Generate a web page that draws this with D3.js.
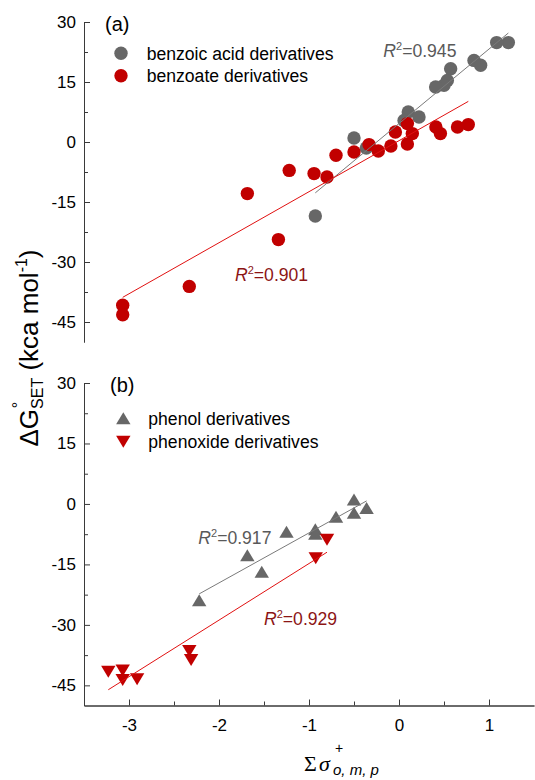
<!DOCTYPE html>
<html>
<head>
<meta charset="utf-8">
<script src="https://cdn.jsdelivr.net/npm/d3@7"></script>
<style>
  html, body { margin: 0; padding: 0; background: #fff; }
  svg { display: block; }
  text { font-family: "Liberation Sans", Arial, sans-serif; }
</style>
</head>
<body>
<svg id="chart" width="535" height="780"></svg>
<script>
// Panel (a): benzoic acid derivatives and benzoate derivatives
const benzoicX = [1.215, 1.085, 0.907, 0.833, 0.574, 0.537, 0.5, 0.407, 0.103, 0.222, 0.056, -0.5, -0.363, -0.93];
const benzoicY = [24.85, 24.85, 19.2, 20.4, 18.3, 15.4, 14.2, 13.75, 7.5, 6.25, 5.4, 1.0, -1.5, -18.5];
const benzoateX = [0.77, 0.65, 0.41, 0.46, 0.093, 0.148, 0.093, -0.04, -0.09, -0.23, -0.333, -0.5, -0.70, -1.22, -0.944, -0.80, -1.685, -1.34, -2.33, -3.07, -3.07];
const benzoateY = [4.35, 3.75, 3.75, 2.1, 4.6, 2.1, -0.5, 2.5, -1.0, -2.25, -0.65, -2.5, -3.3, -7.1, -7.9, -8.75, -12.9, -24.4, -36.1, -40.8, -43.2];

// Panel (b): phenol derivatives and phenoxide derivatives
const phenolX = [-0.5, -0.36, -0.5, -0.70, -0.93, -0.93, -1.25, -1.685, -1.525, -2.22];
const phenolY = [1.1, -1.0, -2.2, -3.2, -6.3, -7.4, -6.9, -12.7, -16.8, -23.9];
const phenoxideX = [-0.80, -0.925, -2.33, -2.31, -3.23, -3.07, -3.07, -2.91];
const phenoxideY = [-8.9, -13.5, -36.5, -38.7, -41.6, -41.3, -43.7, -43.5];

// Series names and fit statistics
const seriesNames = ["benzoic acid derivatives", "benzoate derivatives", "phenol derivatives", "phenoxide derivatives"];
const r2Labels = ["0.945", "0.901", "0.917", "0.929"];

// Axis ticks
const xDomain = [-3.5, 1.5];
const yDomain = [-50, 30];
const xMajor = [-3, -2, -1, 0, 1];
const xMinor = [-2.5, -1.5, -0.5, 0.5];
const yMajor = [-45, -30, -15, 0, 15, 30];
const yMinor = [-37.5, -22.5, -7.5, 7.5, 22.5];

const GRAY = "#676767", RED = "#c10000";
const GRAY_LINE = "#7a7a7a", RED_LINE = "#e01010";
const GRAY_TEXT = "#595959", RED_TEXT = "#8c1515";
const AXIS = "#3a3a3a";
const SERIF = "'Liberation Serif', 'Times New Roman', serif";

const svg = d3.select("#chart");
const x = d3.scaleLinear().domain(xDomain).range([84, 534]);
const yA = d3.scaleLinear().domain(yDomain).range([342, 22]);
const yB = d3.scaleLinear().domain(yDomain).range([705.5, 383]);

const zip = (xs, ys) => xs.map((v, i) => [v, ys[i]]);

// least-squares line over the x-range of the series
function fit(xs, ys) {
  const n = xs.length;
  const mx = d3.mean(xs), my = d3.mean(ys);
  let sxy = 0, sxx = 0;
  for (let i = 0; i < n; i++) { sxy += (xs[i] - mx) * (ys[i] - my); sxx += (xs[i] - mx) ** 2; }
  const b = sxy / sxx, a = my - b * mx;
  const [x0, x1] = d3.extent(xs);
  return [[x0, a + b * x0], [x1, a + b * x1]];
}

function styleAxis(g) {
  g.select(".domain").attr("stroke", AXIS).attr("stroke-width", 1);
  g.selectAll(".tick line").attr("stroke", AXIS).attr("stroke-width", 1);
  g.selectAll(".tick text").attr("fill", "#000").attr("font-size", 17)
    .attr("font-family", "'Liberation Sans', Arial, sans-serif");
}

function yAxes(y) {
  svg.append("g").attr("transform", `translate(${x(xDomain[0])},0)`)
    .call(d3.axisLeft(y).tickValues(yMinor).tickSizeInner(-4).tickSizeOuter(0).tickFormat(""))
    .call(styleAxis);
  svg.append("g").attr("transform", `translate(${x(xDomain[0])},0)`)
    .call(d3.axisLeft(y).tickValues(yMajor).tickSizeInner(-6).tickSizeOuter(0).tickPadding(8))
    .call(styleAxis)
    .call(g => g.selectAll(".tick text").text(d => String(d)));
}
yAxes(yA);
yAxes(yB);

// shared x axis at the bottom
svg.append("g").attr("transform", `translate(0,${yB.range()[0]})`)
  .call(d3.axisBottom(x).tickValues(xMinor).tickSizeInner(-4).tickSizeOuter(0).tickFormat(""))
  .call(styleAxis);
svg.append("g").attr("transform", `translate(0,${yB.range()[0]})`)
  .call(d3.axisBottom(x).tickValues(xMajor).tickSizeInner(-6).tickSizeOuter(0).tickPadding(13))
  .call(styleAxis)
  .call(g => g.selectAll(".tick text").text(d => String(d)));

const circle = (g, pts, y, color) =>
  g.selectAll(null).data(pts).join("circle")
    .attr("cx", d => x(d[0])).attr("cy", d => y(d[1])).attr("r", 6.7).attr("fill", color);

const triUp = "M0,-6L7.2,6L-7.2,6Z";
const triDown = "M0,6L7.2,-6L-7.2,-6Z";
const tri = (g, pts, y, path, color) =>
  g.selectAll(null).data(pts).join("path")
    .attr("d", path).attr("transform", d => `translate(${x(d[0])},${y(d[1])})`).attr("fill", color);

const line = (g, seg, y, color) =>
  g.append("line")
    .attr("x1", x(seg[0][0])).attr("y1", y(seg[0][1]))
    .attr("x2", x(seg[1][0])).attr("y2", y(seg[1][1]))
    .attr("stroke", color).attr("stroke-width", 1);

// panel (a) marks
const gA = svg.append("g");
circle(gA, zip(benzoicX, benzoicY), yA, GRAY);
circle(gA, zip(benzoateX, benzoateY), yA, RED);
line(gA, fit(benzoicX, benzoicY), yA, GRAY_LINE);
line(gA, fit(benzoateX, benzoateY), yA, RED_LINE);

// panel (b) marks
const gB = svg.append("g");
tri(gB, zip(phenolX, phenolY), yB, triUp, GRAY);
tri(gB, zip(phenoxideX, phenoxideY), yB, triDown, RED);
line(gB, fit(phenolX, phenolY), yB, GRAY_LINE);
line(gB, fit(phenoxideX, phenoxideY), yB, RED_LINE);

// panel letters
svg.append("text").attr("x", 105).attr("y", 31).attr("font-size", 20).text("(a)");
svg.append("text").attr("x", 110).attr("y", 392).attr("font-size", 20).text("(b)");

// legends
svg.append("circle").attr("cx", 121).attr("cy", 53.3).attr("r", 6.7).attr("fill", GRAY);
svg.append("circle").attr("cx", 121).attr("cy", 75.7).attr("r", 6.7).attr("fill", RED);
svg.append("text").attr("x", 146.7).attr("y", 59.5).attr("font-size", 17.6).text(seriesNames[0]);
svg.append("text").attr("x", 146.7).attr("y", 82).attr("font-size", 17.6).text(seriesNames[1]);
svg.append("path").attr("d", triUp).attr("transform", "translate(123.3,418.3)").attr("fill", GRAY);
svg.append("path").attr("d", triDown).attr("transform", "translate(123.3,441.7)").attr("fill", RED);
svg.append("text").attr("x", 148.3).attr("y", 424.5).attr("font-size", 17.6).text(seriesNames[2]);
svg.append("text").attr("x", 148.3).attr("y", 447.5).attr("font-size", 17.6).text(seriesNames[3]);

// R² annotations
function r2(xp, yp, value, color) {
  const t = svg.append("text").attr("x", xp).attr("y", yp).attr("font-size", 17.6).attr("fill", color);
  t.append("tspan").attr("font-style", "italic").text("R");
  t.append("tspan").attr("font-size", 11).attr("dy", -7).text("2");
  t.append("tspan").attr("dy", 7).text("=" + value);
}
r2(383.3, 57, r2Labels[0], GRAY_TEXT);
r2(235, 281, r2Labels[1], RED_TEXT);
r2(198.3, 543.5, r2Labels[2], GRAY_TEXT);
r2(264, 624.5, r2Labels[3], RED_TEXT);

// y-axis title: ΔG°SET (kca mol-1)
const yt = svg.append("g").attr("transform", "translate(38,348) rotate(-90)");
const ytText = yt.append("text").attr("text-anchor", "middle").attr("font-size", 26).attr("fill", "#000");
ytText.append("tspan").text("ΔG");
ytText.append("tspan").attr("font-size", 16).attr("dy", 5).text("SET");
ytText.append("tspan").attr("dy", -5).text(" (kca mol");
ytText.append("tspan").attr("font-size", 16).attr("dy", -11).text("-1");
ytText.append("tspan").attr("dy", 11).text(")");
// degree mark above the G
yt.append("text").attr("x", -57).attr("y", -14).attr("text-anchor", "middle")
  .attr("font-size", 16).attr("fill", "#000").text("°");

// x-axis title: Σσ+ o, m, p
const xt = svg.append("text").attr("fill", "#000");
xt.append("tspan").attr("x", 304).attr("y", 771).attr("font-family", SERIF).attr("font-size", 22).text("Σ");
xt.append("tspan").attr("x", 319).attr("font-family", SERIF).attr("font-style", "italic").attr("font-size", 22).text("σ");
xt.append("tspan").attr("x", 335).attr("y", 753).attr("font-size", 14).text("+");
xt.append("tspan").attr("x", 333).attr("y", 775).attr("font-size", 15).attr("font-style", "italic").text("o, m, p");
</script>
</body>
</html>
